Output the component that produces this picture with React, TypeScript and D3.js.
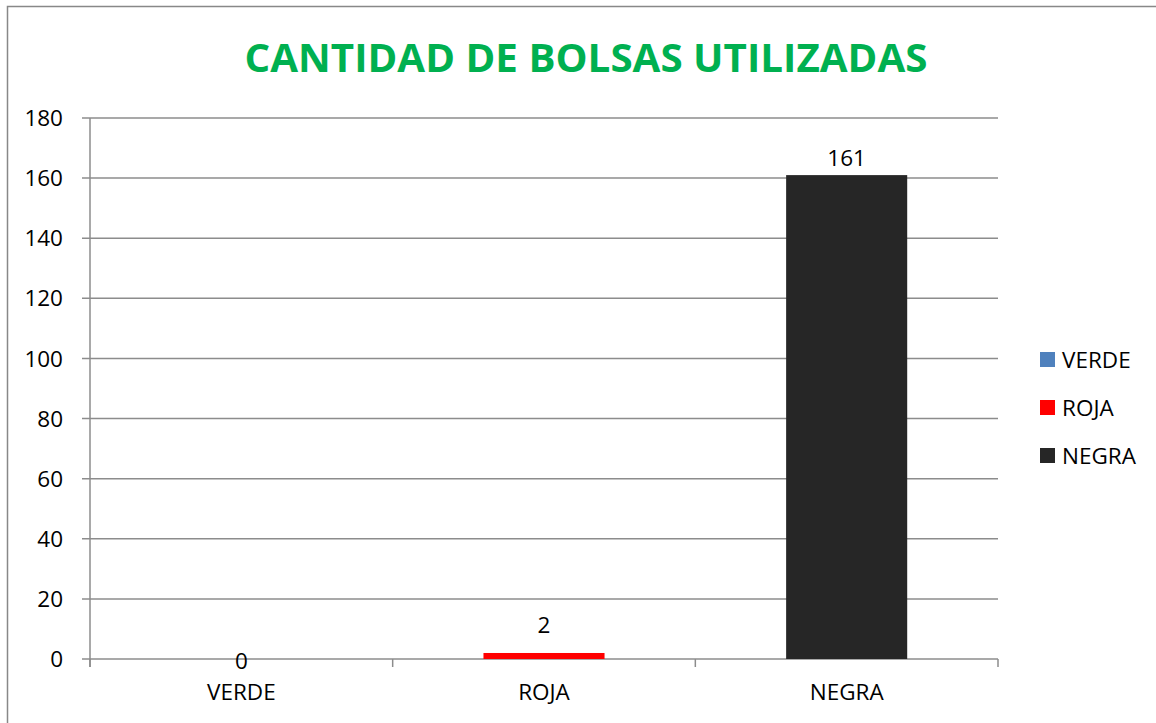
import * as d3 from 'd3';
import React, { useRef, useEffect } from 'react';

const categories = ['VERDE', 'ROJA', 'NEGRA'];
const values = [0, 2, 161];
const colors = ['#4F81BD', '#FF0000', '#262626'];
const yTicks = [0, 20, 40, 60, 80, 100, 120, 140, 160, 180];
const title = 'CANTIDAD DE BOLSAS UTILIZADAS';

function BarChart({ width, height }: { width: number; height: number }) {
    const ref = useRef<SVGSVGElement>(null);

    useEffect(() => {
        let svg = d3.select(ref.current);
        svg.selectAll('*').remove();
        draw();
    }, []);

    const draw = () => {
        const font = "'Open Sans', sans-serif";
        const fs = 22.5;
        let margin = { top: 118, left: 90, right: 158, bottom: 64 };
        let w = width - margin.left - margin.right;
        let h = height - margin.top - margin.bottom;

        let svg = d3.select(ref.current);

        // outer frame
        svg.append('rect')
            .attr('x', 7.5).attr('y', 6.5)
            .attr('width', width + 10).attr('height', height + 10)
            .attr('fill', 'white')
            .attr('stroke', '#888888')
            .attr('stroke-width', 1.5);

        svg.append('text')
            .attr('x', 586).attr('y', 72)
            .attr('text-anchor', 'middle')
            .attr('font-family', font)
            .attr('font-weight', 'bold')
            .attr('font-size', 40)
            .attr('fill', '#00B050')
            .attr('textLength', 683)
            .attr('lengthAdjust', 'spacingAndGlyphs')
            .text(title);

        let x = d3.scaleBand().domain(categories).range([0, w]).padding(0);
        let y = d3.scaleLinear().domain([0, 180]).range([h, 0]);

        let g = svg.append('g')
            .attr('transform', 'translate(' + margin.left + ',' + margin.top + ')');

        // gridlines
        g.selectAll('.grid')
            .data(yTicks)
            .enter()
            .append('line')
            .attr('x1', -8).attr('x2', w)
            .attr('y1', d => y(d)).attr('y2', d => y(d))
            .attr('stroke', '#8c8c8c')
            .attr('stroke-width', 1.5);

        // y axis line
        g.append('line')
            .attr('x1', 0).attr('x2', 0)
            .attr('y1', 0).attr('y2', h + 8)
            .attr('stroke', '#8c8c8c')
            .attr('stroke-width', 1.5);

        // x category ticks
        g.selectAll('.xtick')
            .data([...categories.map(c => x(c) as number), w])
            .enter()
            .append('line')
            .attr('x1', d => d).attr('x2', d => d)
            .attr('y1', h).attr('y2', h + 8)
            .attr('stroke', '#8c8c8c')
            .attr('stroke-width', 1.5);

        g.selectAll('.ylabel')
            .data(yTicks)
            .enter()
            .append('text')
            .attr('x', -27)
            .attr('y', d => y(d))
            .attr('dy', '0.36em')
            .attr('text-anchor', 'end')
            .attr('font-family', font)
            .attr('font-size', fs)
            .attr('fill', '#000')
            .text(d => d);

        g.selectAll('.xlabel')
            .data(categories)
            .enter()
            .append('text')
            .attr('x', d => (x(d) as number) + x.bandwidth() / 2)
            .attr('y', h + 41)
            .attr('text-anchor', 'middle')
            .attr('font-family', font)
            .attr('font-size', fs)
            .attr('fill', '#000')
            .text(d => d);

        const barW = x.bandwidth() * 0.4;
        g.selectAll('.bar')
            .data(categories)
            .enter()
            .append('rect')
            .attr('x', d => (x(d) as number) + (x.bandwidth() - barW) / 2)
            .attr('y', (d, i) => y(values[i]))
            .attr('width', barW)
            .attr('height', (d, i) => h - y(values[i]))
            .attr('fill', (d, i) => colors[i]);

        g.selectAll('.value')
            .data(categories)
            .enter()
            .append('text')
            .attr('x', d => (x(d) as number) + x.bandwidth() / 2)
            .attr('y', (d, i) => values[i] === 0 ? h + 10 : Math.min(y(values[i]) - 9, h - 26))
            .attr('text-anchor', 'middle')
            .attr('font-family', font)
            .attr('font-size', fs)
            .attr('fill', '#000')
            .text((d, i) => values[i]);

        // legend
        let legend = svg.append('g').attr('transform', 'translate(1040,352)');
        let items = legend.selectAll('.item')
            .data(categories)
            .enter()
            .append('g')
            .attr('transform', (d, i) => 'translate(0,' + i * 48 + ')');
        items.append('rect')
            .attr('width', 15).attr('height', 15)
            .attr('fill', (d, i) => colors[i]);
        items.append('text')
            .attr('x', 22).attr('y', 7.5)
            .attr('dy', '0.36em')
            .attr('font-family', font)
            .attr('font-size', fs)
            .attr('fill', '#000')
            .text(d => d);
    };

    return <svg ref={ref} width={width} height={height} style={{ position: 'absolute', left: 0, top: 0 }} />;
}

export default function App() {
    return <BarChart width={1156} height={723} />;
}
